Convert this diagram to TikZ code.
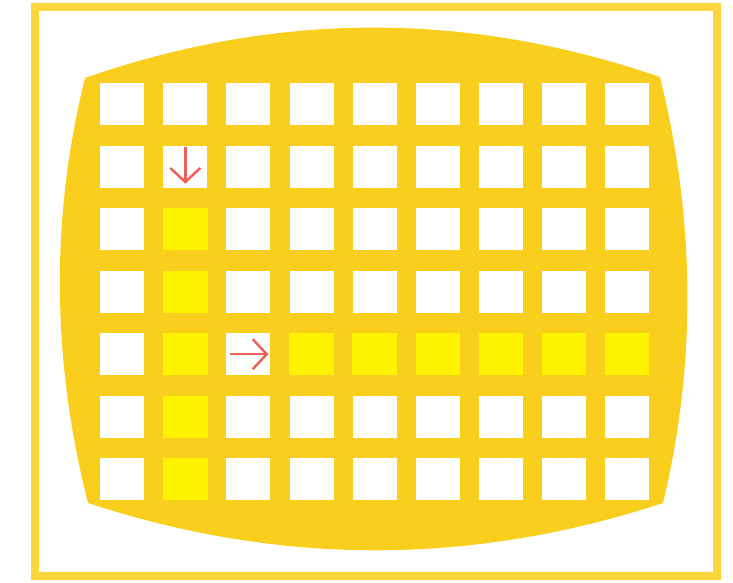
\documentclass[tikz,border=0pt]{standalone}
\usetikzlibrary{arrows.meta}
\definecolor{gold}{RGB}{250,206,28}
\definecolor{framegold}{RGB}{250,214,60}
\definecolor{hilite}{RGB}{255,243,0}
\definecolor{arrowred}{RGB}{236,98,88}
\begin{document}
\begin{tikzpicture}[x=1pt,y=-1pt,
  cell/.style={fill=white, draw=none, minimum width=44pt, minimum height=42pt, inner sep=0pt, anchor=north west},
  lit/.style={cell, fill=hilite},
  redarrow/.style={draw=arrowred, line width=2.5pt, -{Straight Barb[length=14pt,width=30pt]}}]
\useasboundingbox (0,0) rectangle (733,582);
\fill[white] (0,0) rectangle (733,582);
% outer frame
\draw[framegold, line width=8pt] (35,7) rectangle (717,576);
% screen
\fill[gold] (85,78) .. controls (277,11) and (468,11) .. (660,77)
  .. controls (695,219) and (697,361) .. (663,503)
  .. controls (471,566) and (280,566) .. (88,503)
  .. controls (52,361) and (50,219) .. (85,78) -- cycle;
% grid of cells
\foreach \c in {1,...,9}{
  \foreach \r in {1,...,7}{
    \pgfmathsetmacro{\xx}{100+63.1*(\c-1)}
    \pgfmathsetmacro{\yy}{83+62.5*(\r-1)}
    \node[cell] (c\c r\r) at (\xx,\yy) {};
  }
}
% highlighted cells
\foreach \r in {3,...,7}{
  \fill[hilite] (c2r\r.north west) rectangle (c2r\r.south east);
}
\foreach \c in {4,...,9}{
  \fill[hilite] (c\c r5.north west) rectangle (c\c r5.south east);
}
% arrows
\coordinate (dA) at ([yshift=-66pt]c2r2.south);
\path (c2r2.center) ++(0,-20) coordinate (d1) ++(0,37) coordinate (d2);
\draw[redarrow] (d1) -- (d2);
\path (c3r5.center) ++(-18,0) coordinate (r1) ++(38,0) coordinate (r2);
\draw[redarrow] (r1) -- (r2);
\end{tikzpicture}
\end{document}
